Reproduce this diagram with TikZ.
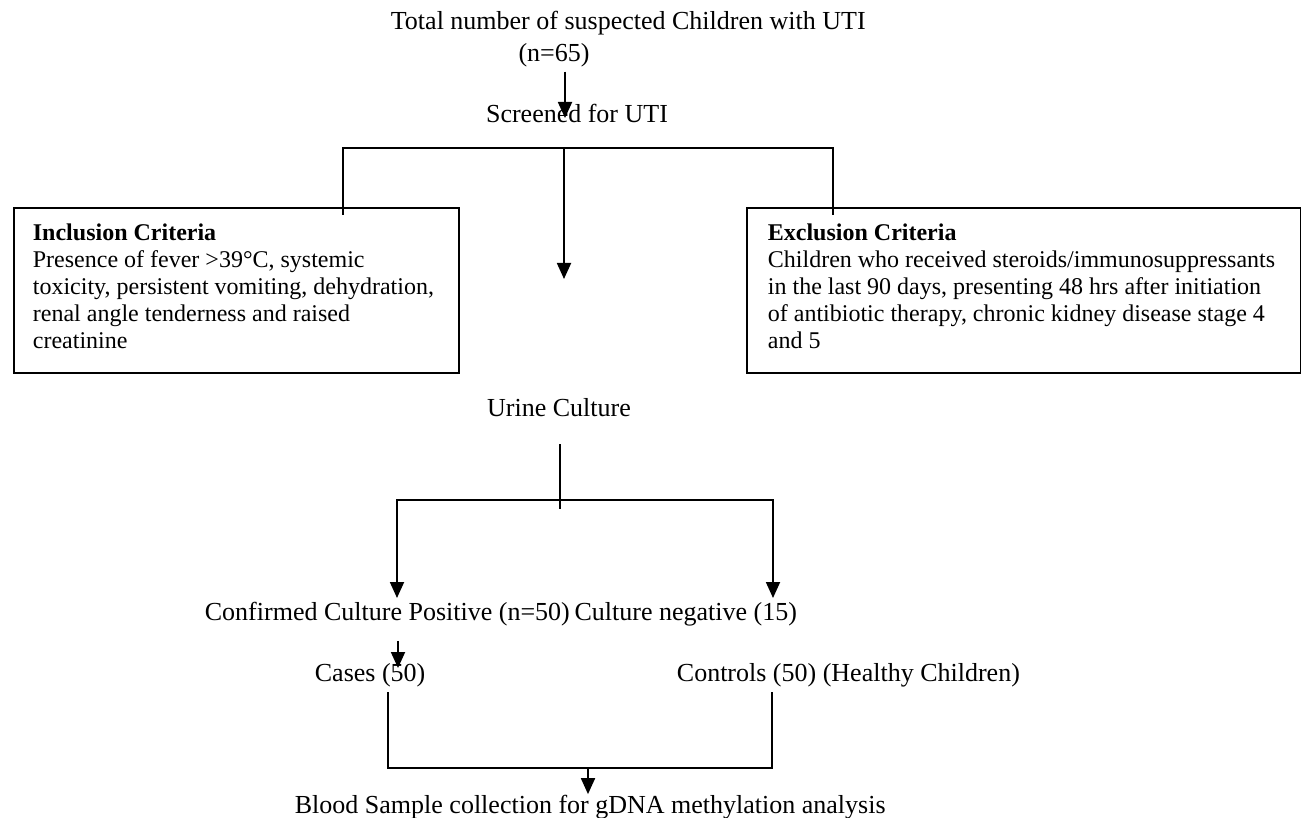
\documentclass[tikz,border=0pt]{standalone}
\usepackage{fontspec}
\setmainfont{Liberation Serif}
\usetikzlibrary{arrows.meta}

\tikzset{
	lbl/.style={inner sep=0pt, font=\fontsize{13}{15.5}\selectfont},
	crit/.style={draw, line width=1.2pt, inner sep=0pt, anchor=north west, minimum height=82.5pt},
	crittext/.style={inner sep=0pt, anchor=north west, align=left, font=\fontsize{12}{13.5}\selectfont},
	arr/.style={-{Triangle[width=7pt,length=8pt]}}
}

\begin{document}
\begin{tikzpicture}[x=0.5pt, y=-0.5pt, line width=0.9pt]
		\useasboundingbox (0,0) rectangle (1301,818);
		
		%screening
		\node[lbl, anchor=west] (total) at (390,23) {Total number of suspected Children with UTI};
		\node[lbl] (n65) at (554,55) {(n=65)};
		\node[lbl] (screen) at (577,113) {Screened for UTI};
		\coordinate (screentip) at (565,118);
		\draw[arr] ([yshift=-2pt]n65.south -| screentip) -- (screentip);
		
		%criteria
		\node[crit, minimum width=222.5pt] (incl) at (13,207) {};
		\node[crit, minimum width=277pt] (excl) at (746,207) {};
		\node[crittext] (incltext) at (32,223) {\textbf{Inclusion Criteria}\\
			Presence of fever >39°C, systemic\\
			toxicity, persistent vomiting, dehydration,\\
			renal angle tenderness and raised\\
			creatinine};
		\node[crittext] (excltext) at (767,223) {\textbf{Exclusion Criteria}\\
			Children who received steroids/immunosuppressants\\
			in the last 90 days, presenting 48 hrs after initiation\\
			of antibiotic therapy, chronic kidney disease stage 4\\
			and 5};
		
		\coordinate (split) at (564,148);
		\coordinate (inclin) at (343,215);
		\coordinate (exclin) at (833,215);
		\coordinate (midtip) at (564,279);
		\draw (inclin) |- (exclin |- split) -- (exclin);
		\draw[arr] (split) -- (midtip);
		
		%urine culture
		\node[lbl] (urine) at (559,408) {Urine Culture};
		\coordinate (utop) at (560,444);
		\coordinate (ubot) at (560,509);
		\coordinate (ufork) at (560,500);
		\coordinate (postip) at (397,598);
		\coordinate (negtip) at (773,598);
		\draw (utop) -- (ubot);
		\draw[arr] (ufork) -| (postip);
		\draw[arr] (ufork) -| (negtip);
		
		\node[lbl, anchor=west] (pos) at (204,614) {Confirmed Culture Positive (n=50)};
		\node[lbl, anchor=west] (neg) at ([xshift=1.5pt]pos.east) {Culture negative (15)};
		
		%cases and controls
		\node[lbl, anchor=west] (cases) at (314,675) {Cases (50)};
		\node[lbl, anchor=west] (controls) at (676,675) {Controls (50) (Healthy Children)};
		\coordinate (casetip) at (398,668);
		\draw[arr] ([yshift=-7pt]pos.south -| casetip) -- (casetip);
		
		\node[lbl, anchor=west] (blood) at (294,807) {Blood Sample collection for gDNA methylation analysis};
		\coordinate (casesleg) at (388,692);
		\coordinate (ctrlleg) at (772,692);
		\coordinate (join) at (588,768);
		\draw (casesleg) |- (ctrlleg |- join) -- (ctrlleg);
		\draw[arr] (join) -- (join |- blood.north);
\end{tikzpicture}
\end{document}
